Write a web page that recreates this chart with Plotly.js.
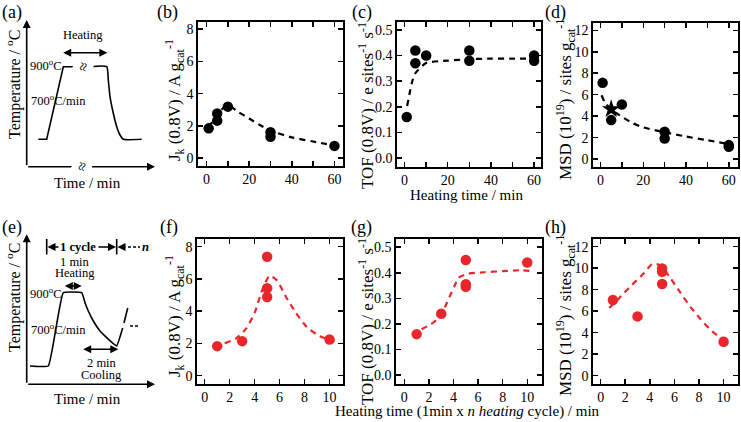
<!DOCTYPE html>
<html><head><meta charset="utf-8">
<script src="https://cdn.plot.ly/plotly-3.0.1.min.js"></script>
<style>html,body{margin:0;padding:0;background:#fff}</style>
</head><body><div id="plot" style="width:741px;height:422px"></div>
<script>
// ---------- data ----------
const bX = [1, 5, 5, 10, 30, 30, 60];
const bY = [1.84, 2.77, 2.32, 3.19, 1.6, 1.32, 0.75];
const bFitX = [1, 3, 5, 7, 10, 15, 20, 25, 30, 40, 50, 60];
const bFitY = [1.9, 2.3, 2.7, 3.0, 3.3, 2.85, 2.45, 2.05, 1.7, 1.28, 1.02, 0.78];

const cX = [1, 5, 5, 10, 30, 30, 60, 60];
const cY = [0.16, 0.42, 0.37, 0.40, 0.42, 0.38, 0.40, 0.38];
const cFitX = [1.2, 3.4, 4.9, 10, 20, 30, 40, 50, 60];
const cFitY = [0.203, 0.294, 0.33, 0.371, 0.38, 0.386, 0.388, 0.388, 0.388];

const dX = [1, 5, 10, 30, 30, 60, 60];
const dY = [7.1, 3.63, 5.09, 2.54, 1.92, 1.3, 1.15];
const dStarX = [5];
const dStarY = [4.65];
const dFitX = [0.5, 2, 5, 8, 10, 15, 20, 30, 40, 50, 60];
const dFitY = [5.95, 5.3, 4.6, 4.2, 3.95, 3.35, 2.95, 2.5, 2.1, 1.75, 1.4];

const fX = [1, 3, 5, 5, 5, 10];
const fY = [1.83, 2.14, 7.38, 5.42, 4.88, 2.24];
const fFitX = [1.6, 2.5, 3.3, 4.0, 4.6, 5.2, 5.8, 6.5, 7.3, 8.2, 9.2, 10.4];
const fFitY = [2.0, 2.3, 2.9, 3.9, 5.3, 6.2, 5.9, 4.9, 3.9, 3.0, 2.45, 2.15];

const gX = [1, 3, 5, 5, 5, 10];
const gY = [0.16, 0.24, 0.45, 0.355, 0.345, 0.44];
const gFitX = [1.4, 2.2, 2.9, 3.3, 3.7, 4.1, 4.4, 5.2, 6.5, 8, 9.5, 10.6];
const gFitY = [0.179, 0.2, 0.227, 0.265, 0.309, 0.35, 0.38, 0.396, 0.402, 0.406, 0.41, 0.405];

const hX = [1, 3, 5, 5, 5, 10];
const hY = [7.04, 5.52, 9.98, 9.67, 8.53, 3.16];
const hFitX = [0.7, 1.5, 2.5, 3.5, 4.2, 4.8, 5.6, 6.5, 7.3, 8.1, 8.9, 9.7, 10.5];
const hFitY = [6.3, 7.2, 8.4, 9.5, 10.4, 10.3, 9.2, 7.7, 6.4, 5.3, 4.3, 3.6, 3.2];

const xTicksLong = [0, 20, 40, 60];
const xTicksShort = [0, 2, 4, 6, 8, 10];
const jkTicks = [0, 2, 4, 6, 8];
const tofTicks = [0, 0.1, 0.2, 0.3, 0.4, 0.5];
const tofTickText = ['0.0', '0.1', '0.2', '0.3', '0.4', '0.5'];
const msdTicks = [0, 2, 4, 6, 8, 10, 12];

// schematic profiles (a) and (e), in the schematic's own drawing units
const schemAX = [38.3, 46.7, 63.3, 76.7];
const schemAY = [139.3, 139.3, 66.7, 66.7];
const schemA2X = [90, 106.7, 108.3, 110, 113.3, 116.7, 120, 123.3, 141.7];
const schemA2Y = [66.7, 66.7, 80, 96.7, 113.3, 126.7, 135, 139.3, 139.3];
const schemEX = [30, 48.3, 63.3, 81.7, 85, 88.3, 93.3, 100, 106.7, 113.3, 116.7, 122.7];
const schemEY = [366, 366, 292.7, 292.7, 302.7, 311, 321, 331, 337.7, 343.7, 346, 328];
const schemE2X = [124, 127.7];
const schemE2Y = [323, 308];
const schemE3X = [130, 138];
const schemE3Y = [326, 326];
const cycleDashX = [128, 140];
const cycleDashY = [247, 247];
const barX1 = [46.7, 46.7], barX2 = [116.7, 116.7], barY = [239, 254.5];

// ---------- layout ----------
const W = 741, H = 422;
const RED = '#e8262c';
const FONT = 'Liberation Serif';
function dx(a, b) { return [a / W, b / W]; }
function dy(a, b) { return [1 - b / H, 1 - a / H]; }
function axis(dom, range, anchor, extra) {
  return Object.assign({
    domain: dom, range: range, anchor: anchor, type: 'linear',
    showline: true, linecolor: '#000', linewidth: 1.6, mirror: 'ticks',
    ticks: 'inside', ticklen: 5, tickwidth: 1.5, tickcolor: '#000',
    showgrid: false, zeroline: false, fixedrange: true, automargin: false,
    ticklabeloverflow: 'allow', showticklabels: true, tickmode: 'array',
    tickfont: { family: FONT, size: 14, color: '#000' }
  }, extra || {});
}
const minor10 = { dtick: 10, tick0: 0, ticks: 'inside', ticklen: 5, tickwidth: 1.5, tickcolor: '#000' };

const layout = {
  width: W, height: H, margin: { l: 0, r: 0, t: 0, b: 0, pad: 0 },
  paper_bgcolor: '#fff', plot_bgcolor: 'rgba(0,0,0,0)', showlegend: false,
  font: { family: FONT, color: '#000' },
  xaxis: axis(dx(198, 343), [-4, 64], 'y', { tickvals: xTicksLong, minor: minor10 }),
  yaxis: axis(dy(22, 166), [-0.5, 8.45], 'x', { tickvals: jkTicks }),
  xaxis2: axis(dx(397, 541), [-3.5, 63.2], 'y2', { tickvals: xTicksLong, minor: minor10 }),
  yaxis2: axis(dy(22, 167), [-0.035, 0.531], 'x2', { tickvals: tofTicks, ticktext: tofTickText }),
  xaxis3: axis(dx(593, 738), [-3.5, 64.3], 'y3', { tickvals: xTicksLong, minor: minor10 }),
  yaxis3: axis(dy(23, 167), [-0.74, 12.68], 'x3', { tickvals: msdTicks }),
  xaxis4: axis(dx(197, 343), [-0.62, 11.08], 'y4', { tickvals: xTicksShort }),
  yaxis4: axis(dy(239, 384), [-0.52, 8.48], 'x4', { tickvals: jkTicks }),
  xaxis5: axis(dx(396, 542), [-0.68, 11.2], 'y5', { tickvals: xTicksShort }),
  yaxis5: axis(dy(239, 384), [-0.035, 0.532], 'x5', { tickvals: tofTicks, ticktext: tofTickText }),
  xaxis6: axis(dx(593, 738), [-0.62, 11.17], 'y6', { tickvals: xTicksShort }),
  yaxis6: axis(dy(239, 384), [-0.77, 12.72], 'x6', { tickvals: msdTicks }),
  xaxis9: { domain: [0, 1], range: [0, W], anchor: 'y9', visible: false, fixedrange: true },
  yaxis9: { domain: [0, 1], range: [H, 0], anchor: 'x9', visible: false, fixedrange: true },
  annotations: []
};

function txt(x, y, text, size, extra) {
  layout.annotations.push(Object.assign({
    xref: 'x9', yref: 'y9', x: x, y: y, text: text, showarrow: false,
    font: { family: FONT, size: size, color: '#000' }, xanchor: 'center', yanchor: 'middle'
  }, extra || {}));
}
function arrow(x0, y0, x1, y1, both) {
  layout.annotations.push({
    xref: 'x9', yref: 'y9', axref: 'x9', ayref: 'y9', x: x1, y: y1, ax: x0, ay: y0,
    text: '', showarrow: true, arrowhead: 2, arrowsize: 1, arrowwidth: 1.6, arrowcolor: '#000',
    arrowside: both ? 'end+start' : 'end', standoff: 0, startstandoff: 0
  });
}

// panel labels
[['(a)', 12, 12], ['(b)', 167, 12], ['(c)', 362, 12], ['(d)', 555, 12],
 ['(e)', 12, 227], ['(f)', 169, 227], ['(g)', 361, 227], ['(h)', 555, 227]]
  .forEach(p => txt(p[1], p[2], p[0], 18));

// y titles
const jkT = 'J<sub>k</sub> (0.8V) / A g<sub>cat</sub><sup>-1</sup>';
const tofT = 'TOF (0.8V) / e sites<sup>-1</sup> s<sup>-1</sup>';
const msdT = 'MSD (10<sup>19</sup>) / sites g<sub>cat</sub><sup>-1</sup>';
txt(174, 100, jkT, 17, { textangle: -90 });
txt(366, 106, tofT, 17, { textangle: -90 });
txt(565, 100, msdT, 17, { textangle: -90 });
txt(174, 316, jkT, 17, { textangle: -90 });
txt(366, 322, tofT, 17, { textangle: -90 });
txt(565, 316, msdT, 17, { textangle: -90 });
// x titles
txt(466, 195, 'Heating time / min', 15);
txt(467, 411, 'Heating time (1min x <i>n heating</i> cycle) / min', 15);

// schematic (a)
arrow(26.7, 166.7, 26.7, 20);
arrow(26.7, 166.7, 155, 166.7);
txt(13, 85, 'Temperature / <sup>o</sup>C', 16, { textangle: -90 });
txt(87, 183, 'Time / min', 15);
txt(83.3, 35, 'Heating', 12.5);
arrow(61.7, 52.7, 107.3, 52.7, true);
txt(45, 64.5, '900<sup>o</sup>C', 12.5);
txt(58.3, 100, '700<sup>o</sup>C/min', 12.5);
txt(83.3, 66.7, '≈', 16, { textangle: -75, bgcolor: '#fff' });
txt(82, 166.7, '≈', 16, { textangle: -75, bgcolor: '#fff' });

// schematic (e)
arrow(26.7, 384.3, 26.7, 234.3);
arrow(26.7, 384.3, 155, 384.3);
txt(13, 298, 'Temperature / <sup>o</sup>C', 16, { textangle: -90 });
txt(87, 399, 'Time / min', 15);
txt(78, 247, '<b>1 cycle</b>', 12.5);
txt(145.7, 247, '<b><i>n</i></b>', 12.5);
arrow(60, 247, 47.5, 247);
arrow(97, 247, 116, 247);
arrow(127, 247, 117.5, 247);
txt(75, 261.5, '1 min', 12.5);
txt(75, 273, 'Heating', 12.5);
arrow(63.3, 286, 81.7, 286, true);
txt(45, 292.7, '900<sup>o</sup>C', 12.5);
txt(58, 329, '700<sup>o</sup>C/min', 12.5);
arrow(81.7, 349.3, 118.3, 349.3, true);
txt(101.7, 362.7, '2 min', 12.5);
txt(101.7, 374.5, 'Cooling', 12.5);

// ---------- traces ----------
const dash = { dash: '6px,5px', width: 2.2 };
function fit(x, y, xa, ya, color) {
  return { x: x, y: y, xaxis: xa, yaxis: ya, type: 'scatter', mode: 'lines',
    line: Object.assign({ color: color, shape: 'spline', smoothing: 0.6 }, dash), hoverinfo: 'skip' };
}
function pts(x, y, xa, ya, color, sym, size) {
  return { x: x, y: y, xaxis: xa, yaxis: ya, type: 'scatter', mode: 'markers', cliponaxis: false,
    marker: { color: color, size: size || 10.5, symbol: sym || 'circle', line: { width: 0 } } };
}
function sline(x, y, extra) {
  return { x: x, y: y, xaxis: 'x9', yaxis: 'y9', type: 'scatter', mode: 'lines', hoverinfo: 'skip',
    line: Object.assign({ color: '#000', width: 1.6 }, extra || {}) };
}
const data = [
  fit(bFitX, bFitY, 'x', 'y', '#000'), pts(bX, bY, 'x', 'y', '#000'),
  fit(cFitX, cFitY, 'x2', 'y2', '#000'), pts(cX, cY, 'x2', 'y2', '#000'),
  fit(dFitX, dFitY, 'x3', 'y3', '#000'), pts(dX, dY, 'x3', 'y3', '#000'),
  pts(dStarX, dStarY, 'x3', 'y3', '#000', 'star', 14),
  fit(fFitX, fFitY, 'x4', 'y4', RED), pts(fX, fY, 'x4', 'y4', RED),
  fit(gFitX, gFitY, 'x5', 'y5', RED), pts(gX, gY, 'x5', 'y5', RED),
  fit(hFitX, hFitY, 'x6', 'y6', RED), pts(hX, hY, 'x6', 'y6', RED),
  sline(schemAX, schemAY), sline(schemA2X, schemA2Y, { shape: 'spline', smoothing: 0.5 }),
  sline(schemEX, schemEY, { shape: 'spline', smoothing: 0.3 }), sline(schemE2X, schemE2Y),
  sline(schemE3X, schemE3Y, { dash: '3px,2px' }), sline(cycleDashX, cycleDashY, { dash: '3px,2px' }),
  sline(barX1, barY), sline(barX2, barY)
];

Plotly.newPlot('plot', data, layout, { staticPlot: true, displayModeBar: false });
</script></body></html>
